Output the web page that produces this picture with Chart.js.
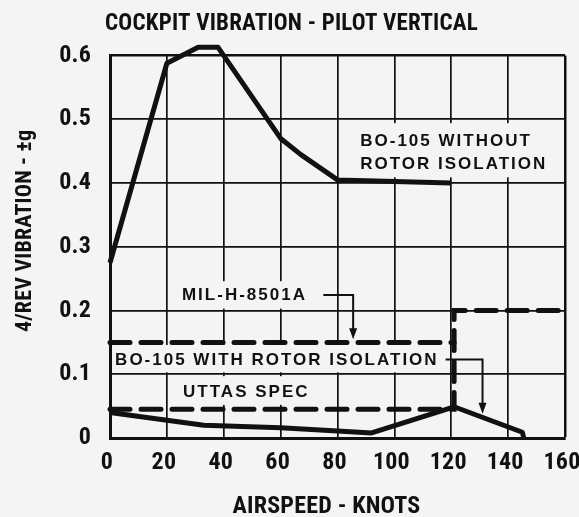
<!DOCTYPE html>
<html><head><meta charset="utf-8">
<script src="https://cdn.jsdelivr.net/npm/chart.js@4/dist/chart.umd.min.js"></script>
<style>html,body{margin:0;padding:0;background:#f4f4f4;}#wrap{width:579px;height:517px;}</style>
</head><body><div id="wrap"><canvas id="c" width="579" height="517"></canvas></div>
<script>
// ---- data ----
const withoutIsoX = [0, 20, 31, 38, 60, 67, 80, 120];
const withoutIsoY = [0.275, 0.588, 0.613, 0.613, 0.47, 0.445, 0.405, 0.40];
const withIsoX = [0, 20, 33, 60, 80, 92, 121, 145, 145.5];
const withIsoY = [0.040, 0.028, 0.020, 0.016, 0.011, 0.008, 0.049, 0.009, 0];
const milSpecX = [0, 121];
const milSpecY = [0.15, 0.15];
const uttasSpecX = [0, 121, 121, 160];
const uttasSpecY = [0.045, 0.045, 0.2, 0.2];
const xTicks = [0, 20, 40, 60, 80, 100, 120, 140, 160];
const yTicks = [0, 0.1, 0.2, 0.3, 0.4, 0.5, 0.6];
const yTickLabels = ['0', '0.1', '0.2', '0.3', '0.4', '0.5', '0.6'];
const titleText = 'COCKPIT VIBRATION - PILOT VERTICAL';
const xTitle = 'AIRSPEED - KNOTS';
const yTitle = '4/REV VIBRATION - \u00B1g';

const pts = (xs, ys) => xs.map((x, i) => ({x: x, y: ys[i]}));
const FAM = "'Roboto Condensed','Liberation Sans Narrow','DejaVu Sans',sans-serif";
const INK = '#111';
const BG = '#f4f4f4';

// annotation labels (data coordinates)
const notes = [
  {lines: ['BO-105 WITHOUT', 'ROTOR ISOLATION'], x: 88, ys: [0.465, 0.429], box: [83.5, 158.5, 0.409, 0.494]},
  {lines: ['MIL-H-8501A'], x: 25.3, ys: [0.2245], box: [23, 73, 0.203, 0.246],
   arrow: [[75, 0.2245], [85.5, 0.2245], [85.5, 0.155]]},
  {lines: ['BO-105 WITH ROTOR ISOLATION'], x: 1.8, ys: [0.1225], box: [0.8, 117.5, 0.103, 0.146],
   arrow: [[118, 0.123], [131, 0.123], [131, 0.038]]},
  {lines: ['UTTAS SPEC'], x: 25.7, ys: [0.072], box: [23, 70, 0.052, 0.097]}
];

// shift a drawing method by a fixed offset
function shiftDraw(obj, name, dx, dy) {
  if (!obj || obj['_shift_' + name]) return;
  const orig = obj[name];
  obj[name] = function () {
    const ctx = this.ctx;
    ctx.save(); ctx.translate(dx, dy); const r = orig.apply(this, arguments); ctx.restore(); return r;
  };
  obj['_shift_' + name] = true;
}

const notesPlugin = {
  id: 'notes',
  beforeDraw(chart) {
    chart.ctx.letterSpacing = '0.2px';
    shiftDraw(chart.titleBlock, 'draw', 9, 0);
  },
  beforeDatasetsDraw(chart) {
    const {ctx, scales: {x, y}} = chart;
    ctx.save();
    ctx.fillStyle = BG;
    notes.forEach(n => {
      const x0 = x.getPixelForValue(n.box[0]), x1 = x.getPixelForValue(n.box[1]);
      const y0 = y.getPixelForValue(n.box[3]), y1 = y.getPixelForValue(n.box[2]);
      ctx.fillRect(x0, y0, x1 - x0, y1 - y0);
    });
    ctx.restore();
  },
  afterDatasetsDraw(chart) {
    const {ctx, scales: {x, y}} = chart;
    ctx.save();
    ctx.fillStyle = INK;
    ctx.strokeStyle = INK;
    ctx.font = "bold 17px 'Liberation Sans','DejaVu Sans',sans-serif";
    ctx.letterSpacing = '2px';
    ctx.textBaseline = 'middle';
    ctx.textAlign = 'left';
    notes.forEach(n => {
      n.lines.forEach((t, i) => ctx.fillText(t, x.getPixelForValue(n.x), y.getPixelForValue(n.ys[i])));
      if (n.arrow) {
        const p = n.arrow.map(a => [x.getPixelForValue(a[0]), y.getPixelForValue(a[1])]);
        ctx.lineWidth = 2;
        ctx.beginPath();
        ctx.moveTo(p[0][0], p[0][1]);
        for (let i = 1; i < p.length; i++) ctx.lineTo(p[i][0], p[i][1] - (i === p.length - 1 ? 8 : 0));
        ctx.stroke();
        const tip = p[p.length - 1];
        ctx.beginPath();
        ctx.moveTo(tip[0], tip[1]);
        ctx.lineTo(tip[0] - 4, tip[1] - 11);
        ctx.lineTo(tip[0] + 4, tip[1] - 11);
        ctx.closePath();
        ctx.fill();
      }
    });
    ctx.restore();
  },
  afterDraw(chart) { chart.ctx.letterSpacing = '0px'; }
};

const solid = (data) => ({data, borderColor: INK, borderWidth: 5, pointRadius: 0, tension: 0, clip: false, borderJoinStyle: 'round', borderCapStyle: 'butt'});
const dashed = (data) => ({data, borderColor: INK, borderWidth: 5, borderDash: [20, 11], pointRadius: 0, tension: 0, clip: false, borderCapStyle: 'round'});

new Chart(document.getElementById('c'), {
  type: 'line',
  data: {
    datasets: [
      Object.assign(solid(pts(withoutIsoX, withoutIsoY)), {label: 'BO-105 WITHOUT ROTOR ISOLATION'}),
      Object.assign(solid(pts(withIsoX, withIsoY)), {label: 'BO-105 WITH ROTOR ISOLATION'}),
      Object.assign(dashed(pts(milSpecX, milSpecY)), {label: 'MIL-H-8501A'}),
      Object.assign(dashed(pts(uttasSpecX, uttasSpecY)), {label: 'UTTAS SPEC'})
    ]
  },
  plugins: [notesPlugin],
  options: {
    responsive: false,
    animation: false,
    devicePixelRatio: 1,
    layout: {padding: {left: 0, right: 14, top: 0, bottom: 0}},
    plugins: {
      legend: {display: false},
      tooltip: {enabled: false},
      title: {display: true, text: titleText, color: INK,
        font: {family: FAM, size: 23, weight: 'bold', lineHeight: 1.2}, padding: {top: 10, bottom: 18}}
    },
    scales: {
      x: {
        type: 'linear', min: 0, max: 160,
        afterBuildTicks: s => { s.ticks = xTicks.map(v => ({value: v})); },
        afterFit: s => {
          s.height = 79; s.paddingLeft = 0; s.paddingRight = 0;
          shiftDraw(s, 'drawTitle', -11, 2);
        },
        ticks: {color: INK, font: {family: FAM, size: 24, weight: 'bold'}, padding: 11, maxRotation: 0, labelOffset: -3},
        grid: {color: INK, lineWidth: c => (c.tick && c.tick.value === 160 ? 2.5 : 1.7), drawTicks: false},
        border: {color: INK, width: 3},
        title: {display: true, text: xTitle, color: INK, font: {family: FAM, size: 24, weight: 'bold', lineHeight: 1.0}, padding: {top: 0, bottom: 0}}
      },
      y: {
        type: 'linear', min: 0, max: 0.6,
        afterBuildTicks: s => { s.ticks = yTicks.map(v => ({value: v})); },
        afterFit: s => {
          s.width = 110; s.paddingTop = 0; s.paddingBottom = 0;
          shiftDraw(s, 'drawTitle', 0, -16);
        },
        ticks: {color: INK, font: {family: FAM, size: 24, weight: 'bold'}, padding: 19,
          callback: (v, i) => yTickLabels[i]},
        grid: {color: INK, lineWidth: c => (c.tick && c.tick.value === 0.6 ? 2.5 : 1.7), drawTicks: false},
        border: {color: INK, width: 3},
        title: {display: true, text: yTitle, color: INK, font: {family: FAM, size: 22, weight: 'bold'}, padding: {top: 12, bottom: 0}}
      }
    }
  }
});
</script></body></html>
